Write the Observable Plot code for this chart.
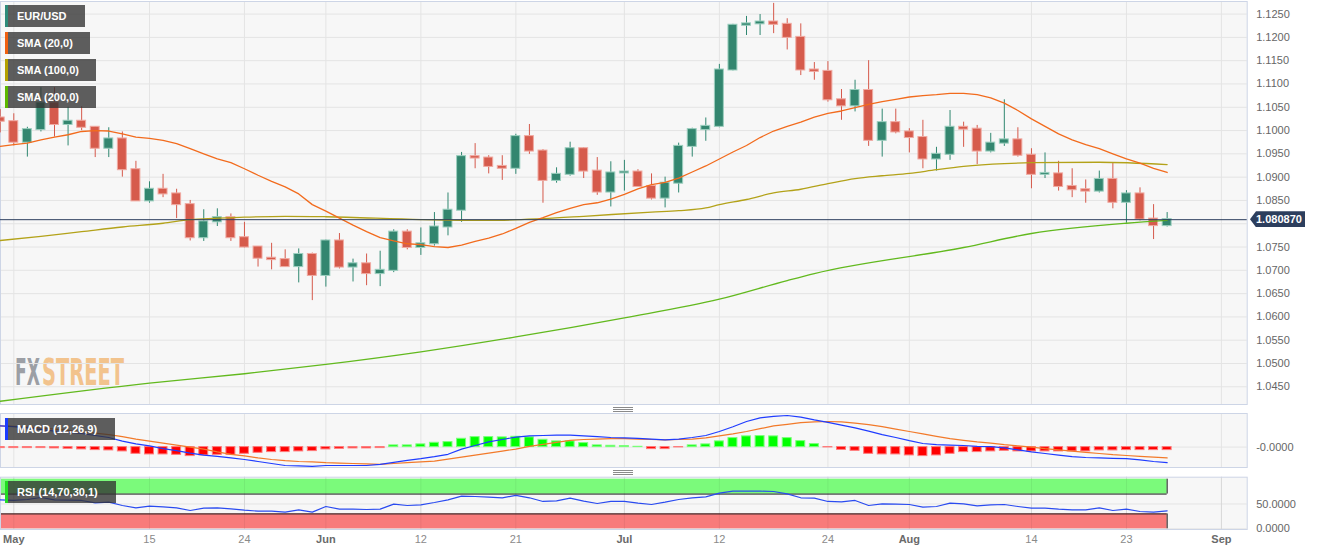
<!DOCTYPE html>
<html><head><meta charset="utf-8">
<script src="https://cdn.jsdelivr.net/npm/d3@7"></script>
<script src="https://cdn.jsdelivr.net/npm/@observablehq/plot@0.6"></script>
<style>
html,body{margin:0;padding:0;background:#fff;}
#wrap{position:relative;width:1323px;height:555px;overflow:hidden;font-family:"Liberation Sans",Arial,sans-serif;}
.abs{position:absolute;left:0;}
.leg{position:absolute;left:5px;height:22px;background:rgba(50,50,50,0.78);color:#fff;font-weight:bold;font-size:11px;line-height:22px;padding-left:12px;box-sizing:border-box;white-space:nowrap;}
.leg span{position:absolute;left:0;top:0;width:3px;height:22px;}
.grip{position:absolute;left:613px;width:20px;height:1px;background:#8a8a8a;box-shadow:0 2px 0 #8a8a8a,0 4px 0 #8a8a8a;}
#tag{position:absolute;left:1250px;width:55px;height:16px;background:#2c3e5d;color:#fff;font-weight:bold;font-size:11px;line-height:16px;padding-left:6px;box-sizing:border-box;clip-path:polygon(0 50%,6px 0,100% 0,100% 100%,6px 100%);}
.wm{font-family:"Liberation Sans Narrow","DejaVu Sans Condensed","Liberation Sans",sans-serif;font-weight:bold;font-size:37px;}
</style></head><body>
<div id="wrap">
  <div class="abs" style="top:1px;width:1247px;height:403px;background:#f7f7f7"></div>
  <svg class="abs" style="top:0" width="200" height="405">
    <g id="wmFX" transform="translate(15,385)"><text class="wm" fill="#9c9fa5">FX</text></g>
    <g id="wmST" transform="translate(42,385)"><text class="wm" fill="#f2c38d">STREET</text></g>
  </svg>
  <div id="main" class="abs" style="top:0"></div>
  <div id="macd" class="abs" style="top:405px"></div>
  <div id="rsi" class="abs" style="top:470px"></div>
  <div class="grip" style="top:407px"></div>
  <div class="grip" style="top:470px"></div>
  <div class="leg" style="top:5px;width:80px"><span style="background:#2e8b7a"></span>EUR/USD</div>
  <div class="leg" style="top:32px;width:85px"><span style="background:#f06010"></span>SMA (20,0)</div>
  <div class="leg" style="top:59px;width:91px"><span style="background:#b3a000"></span>SMA (100,0)</div>
  <div class="leg" style="top:86px;width:91px"><span style="background:#5cb800"></span>SMA (200,0)</div>
  <div class="leg" style="top:418px;width:110px"><span style="background:#1a3cff"></span>MACD (12,26,9)</div>
  <div class="leg" style="top:481px;width:111px"><span style="background:#22dd22"></span>RSI (14,70,30,1)</div>
  <div id="tag"></div>
</div>
<script>
// ---------- DATA ----------
const dates = ["2023-04-28",
"2023-05-01","2023-05-02","2023-05-03","2023-05-04","2023-05-05","2023-05-08","2023-05-09","2023-05-10","2023-05-11","2023-05-12",
"2023-05-15","2023-05-16","2023-05-17","2023-05-18","2023-05-19","2023-05-22","2023-05-23","2023-05-24","2023-05-25","2023-05-26",
"2023-05-29","2023-05-30","2023-05-31",
"2023-06-01","2023-06-02","2023-06-05","2023-06-06","2023-06-07","2023-06-08","2023-06-09","2023-06-12","2023-06-13","2023-06-14",
"2023-06-15","2023-06-16","2023-06-19","2023-06-20","2023-06-21","2023-06-22","2023-06-23","2023-06-26","2023-06-27","2023-06-28",
"2023-06-29","2023-06-30",
"2023-07-03","2023-07-04","2023-07-05","2023-07-06","2023-07-07","2023-07-10","2023-07-11","2023-07-12","2023-07-13","2023-07-14",
"2023-07-17","2023-07-18","2023-07-19","2023-07-20","2023-07-21","2023-07-24","2023-07-25","2023-07-26","2023-07-27","2023-07-28",
"2023-07-31",
"2023-08-01","2023-08-02","2023-08-03","2023-08-04","2023-08-07","2023-08-08","2023-08-09","2023-08-10","2023-08-11","2023-08-14",
"2023-08-15","2023-08-16","2023-08-17","2023-08-18","2023-08-21","2023-08-22","2023-08-23","2023-08-24","2023-08-25","2023-08-28"];

const open = [1.1027,
1.1019,1.0975,1.1002,1.1059,1.1013,1.1020,1.1007,1.0962,1.0982,1.0916,
1.0849,1.0874,1.0864,1.0841,1.0770,1.0804,1.0813,1.0770,1.0750,1.0726,
1.0723,1.0708,1.0734,
1.0689,1.0763,1.0707,1.0714,1.0693,1.0700,1.0782,1.0749,1.0757,1.0793,
1.0829,1.0944,1.0941,1.0923,1.0919,1.0987,1.0956,1.0893,1.0906,1.0961,
1.0913,1.0868,
1.0909,1.0911,1.0880,1.0855,1.0887,1.0966,1.1002,1.1009,1.1130,1.1226,
1.1229,1.1233,1.1228,1.1200,1.1130,1.1127,1.1066,1.1053,1.1086,1.0979,
1.1017,
1.0997,1.0985,1.0939,1.0949,1.1007,1.1003,1.0956,1.0973,1.0980,1.0947,
1.0906,1.0907,1.0880,1.0873,1.0870,1.0895,1.0846,1.0864,1.0810,1.0796];
const high = [1.1045,
1.1036,1.1007,1.1092,1.1092,1.1050,1.1051,1.1008,1.1006,1.0997,1.0934,
1.0890,1.0906,1.0874,1.0850,1.0830,1.0832,1.0821,1.0803,1.0751,1.0758,
1.0744,1.0746,1.0737,
1.0765,1.0779,1.0724,1.0735,1.0741,1.0787,1.0787,1.0791,1.0824,1.0866,
1.0953,1.0972,1.0946,1.0946,1.0992,1.1013,1.0959,1.0920,1.0975,1.0963,
1.0942,1.0933,
1.0936,1.0916,1.0907,1.0900,1.0973,1.1005,1.1027,1.1142,1.1228,1.1245,
1.1249,1.1273,1.1240,1.1229,1.1146,1.1148,1.1088,1.1108,1.1150,1.1046,
1.1046,
1.1004,1.1022,1.0964,1.1043,1.1018,1.1011,1.0994,1.1066,1.1006,1.0961,
1.0952,1.0934,1.0918,1.0894,1.0913,1.0931,1.0871,1.0877,1.0841,1.0824];
const low = [1.0995,
1.0967,1.0943,1.0997,1.0986,1.0967,1.1000,1.0942,1.0942,1.0900,1.0849,
1.0844,1.0856,1.0811,1.0763,1.0762,1.0794,1.0762,1.0748,1.0707,1.0701,
1.0707,1.0673,1.0635,
1.0664,1.0703,1.0675,1.0667,1.0665,1.0695,1.0744,1.0732,1.0752,1.0774,
1.0803,1.0918,1.0907,1.0893,1.0906,1.0949,1.0844,1.0887,1.0902,1.0897,
1.0861,1.0836,
1.0870,1.0879,1.0851,1.0834,1.0866,1.0943,1.0977,1.1006,1.1128,1.1204,
1.1204,1.1208,1.1173,1.1118,1.1108,1.1061,1.1022,1.1040,1.0966,1.0943,
1.0993,
1.0952,1.0918,1.0913,1.0936,1.0964,1.0927,1.0952,1.0966,1.0943,1.0875,
1.0897,1.0870,1.0856,1.0844,1.0866,1.0832,1.0801,1.0806,1.0766,1.0793];
const close = [1.1020,
1.0975,1.1002,1.1059,1.1013,1.1020,1.1007,1.0962,1.0982,1.0916,1.0849,
1.0874,1.0864,1.0841,1.0770,1.0804,1.0813,1.0770,1.0750,1.0726,1.0723,
1.0708,1.0734,1.0689,
1.0763,1.0707,1.0714,1.0693,1.0700,1.0782,1.0749,1.0757,1.0793,1.0829,
1.0944,1.0941,1.0923,1.0919,1.0987,1.0956,1.0893,1.0906,1.0961,1.0913,
1.0868,1.0909,
1.0911,1.0880,1.0855,1.0887,1.0966,1.1002,1.1009,1.1130,1.1226,1.1229,
1.1233,1.1228,1.1200,1.1130,1.1127,1.1066,1.1053,1.1086,1.0979,1.1017,
1.0997,
1.0985,1.0939,1.0949,1.1007,1.1003,1.0956,1.0973,1.0980,1.0947,1.0906,
1.0908,1.0880,1.0873,1.0870,1.0895,1.0846,1.0864,1.0810,1.0796,1.0809];

const sma20 = [1.0966,1.0970,1.0973,1.0980,1.0986,1.0991,1.0998,1.1000,1.0999,1.0993,
1.0986,1.0983,1.0979,1.0972,1.0961,1.0950,1.0939,1.0931,1.0918,1.0904,
1.0891,1.0879,1.0864,1.0841,1.0827,1.0812,1.0797,1.0783,1.0770,1.0763,
1.0757,1.0755,1.0751,1.0749,1.0754,1.0762,1.0769,1.0778,1.0790,1.0803,
1.0813,1.0824,1.0833,1.0841,1.0845,1.0853,1.0863,1.0875,1.0884,1.0889,
1.0898,1.0911,1.0924,1.0939,1.0954,1.0968,1.0985,1.0999,1.1009,1.1018,
1.1029,1.1037,1.1042,1.1049,1.1056,1.1062,1.1067,1.1072,1.1075,1.1077,
1.1080,1.1080,1.1077,1.1070,1.1059,1.1043,1.1025,1.1009,1.0993,1.0980,
1.0970,1.0961,1.0950,1.0939,1.0930,1.0919,1.0910];

const sma100Idx = [-1,2,5,8,11,13,17,20,23,30,35,39,42,47,49,51,52,54,56,58,60,62,64,66,68,70,73,75,80,85];
const sma100Val = [1.0764,1.0773,1.0783,1.0793,1.0801,1.0809,1.0814,1.0816,1.0815,1.0809,1.0807,1.0811,1.0816,1.0825,1.0828,1.0834,1.0841,1.0852,1.0866,1.0874,1.0886,1.0897,1.0903,1.0908,1.0916,1.0923,1.0929,1.0931,1.0932,1.0927];

const sma200Idx = [-1,10,17,23,30,37,45,52,57,59,70,75,82,85];
const sma200Val = [1.0419,1.0458,1.0478,1.0498,1.0525,1.0557,1.0598,1.0638,1.0678,1.0693,1.0749,1.0779,1.0801,1.0807];

const lastPrice = 1.080870;

const macd = [0.0053,0.0051,0.0048,0.0044,0.0040,0.0037,0.0034,0.0029,0.0024,0.0015,
0.0008,0.0003,-0.0004,-0.0009,-0.0015,-0.0020,-0.0023,-0.0027,-0.0031,-0.0036,
-0.0041,-0.0046,-0.0047,-0.0048,-0.0046,-0.0046,-0.0046,-0.0046,-0.0043,-0.0038,
-0.0033,-0.0029,-0.0024,-0.0018,-0.0005,0.0004,0.0013,0.0019,0.0025,0.0028,
0.0029,0.0030,0.0030,0.0028,0.0026,0.0024,0.0023,0.0022,0.0020,0.0018,
0.0020,0.0024,0.0029,0.0039,0.0051,0.0064,0.0073,0.0077,0.0079,0.0075,
0.0068,0.0062,0.0055,0.0048,0.0040,0.0031,0.0024,0.0016,0.0009,0.0006,
0.0005,0.0004,0.0002,0.0001,-0.0002,-0.0007,-0.0012,-0.0016,-0.0020,-0.0024,
-0.0026,-0.0027,-0.0028,-0.0029,-0.0032,-0.0036,-0.0039];
const signal = [0.0053,0.0052,0.0050,0.0048,0.0045,0.0042,0.0038,0.0035,0.0031,0.0026,
0.0020,0.0015,0.0010,0.0005,0.0000,-0.0005,-0.0012,-0.0018,-0.0022,-0.0027,
-0.0031,-0.0034,-0.0036,-0.0037,-0.0039,-0.0040,-0.0041,-0.0042,-0.0043,-0.0041,
-0.0039,-0.0037,-0.0035,-0.0030,-0.0025,-0.0020,-0.0015,-0.0010,-0.0005,0.0002,
0.0007,0.0012,0.0017,0.0019,0.0020,0.0021,0.0021,0.0020,0.0019,0.0018,
0.0019,0.0020,0.0023,0.0028,0.0033,0.0039,0.0046,0.0053,0.0057,0.0061,
0.0063,0.0064,0.0063,0.0060,0.0056,0.0051,0.0045,0.0039,0.0033,0.0027,
0.0021,0.0017,0.0013,0.0010,0.0006,0.0003,0.0000,-0.0004,-0.0007,-0.0010,
-0.0013,-0.0016,-0.0019,-0.0021,-0.0023,-0.0025,-0.0027];
const hist = [-0.00025,-0.00025,-0.00025,-0.00025,-0.00033,-0.00043,-0.00058,-0.00075,-0.00083,-0.00108,
-0.00168,-0.00183,-0.00183,-0.00193,-0.00225,-0.00208,-0.00193,-0.00193,-0.00168,-0.00143,
-0.00125,-0.00125,-0.00108,-0.00100,-0.00058,-0.00043,-0.00033,-0.00033,-0.00025,0.00043,
0.00043,0.00068,0.00108,0.00125,0.00208,0.00250,0.00250,0.00243,0.00258,0.00243,
0.00183,0.00143,0.00143,0.00100,0.00043,0.00033,0.00025,0.00008,-0.00050,-0.00050,
-0.00008,0.00043,0.00068,0.00143,0.00225,0.00268,0.00275,0.00268,0.00225,0.00150,
0.00075,-0.00008,-0.00068,-0.00093,-0.00168,-0.00183,-0.00183,-0.00208,-0.00225,-0.00208,
-0.00168,-0.00125,-0.00125,-0.00108,-0.00093,-0.00108,-0.00108,-0.00108,-0.00108,-0.00108,
-0.00108,-0.00083,-0.00083,-0.00075,-0.00075,-0.00075,-0.00075];

const rsi = [58.4,57.1,59.1,63.1,58.4,57.8,57.1,52.4,53.7,47.0,
42.3,45.7,44.3,42.3,36.9,41.6,42.3,40.3,37.6,35.6,
35.6,33.6,38.3,33.6,45.0,39.6,39.6,38.9,39.6,49.7,
47.0,48.3,53.0,58.4,65.8,65.1,63.8,62.5,67.2,62.5,
55.1,56.4,61.8,55.7,51.0,55.1,55.1,51.7,49.0,53.7,
59.1,62.5,64.5,71.9,75.9,75.9,75.9,75.2,70.5,62.5,
61.8,55.1,54.4,57.1,47.0,50.4,49.7,49.0,43.6,45.0,
51.7,50.4,46.3,48.3,49.0,45.0,41.6,41.6,39.6,38.3,
38.3,42.3,36.9,39.6,34.9,33.6,36.3];
const rsiUpper = 70, rsiLower = 30, rsiTop = 100, rsiBottom = 0;

// grid lines at every 0.005; the 1.0800 label is hidden behind the price tag in the reference
const priceTicks = [1.045,1.050,1.055,1.060,1.065,1.070,1.075,1.080,1.085,1.090,1.095,1.100,1.105,1.110,1.115,1.120,1.125];
const priceLabelTicks = [1.045,1.050,1.055,1.060,1.065,1.070,1.075,1.085,1.090,1.095,1.100,1.105,1.110,1.115,1.120,1.125];
const macdTicks = [0];
const macdTickLabels = ["-0.0000"];
const rsiTicks = [0, 50];
const rsiTickLabels = ["0.0000", "50.0000"];
const gridIdx = [0,10,17,23,30,37,45,52,60,66,75,82,89];
const monthTicks = [0,23,45,66,89];
const monthLabels = ["May","Jun","Jul","Aug","Sep"];
const dayTicks = [10,17,30,37,52,60,75,82];
const dayLabels = ["15","24","12","21","12","24","14","23"];

// ---------- BUILD ----------
const idx = dates.map((d,k) => k - 1);
const firstIdx = idx[0], lastIdx = idx[idx.length - 1];
const candles = idx.map((x,k) => ({x, o: open[k], h: high[k], l: low[k], c: close[k]}));
const isUp = d => d.c >= d.o;
const s20 = idx.map((x,k) => ({x, y: sma20[k]}));
const s100 = sma100Idx.map((x,k) => ({x, y: sma100Val[k]}));
const s200 = sma200Idx.map((x,k) => ({x, y: sma200Val[k]}));
const mData = idx.map((x,k) => ({x, m: macd[k], s: signal[k], h: hist[k]}));
const rData = idx.map((x,k) => ({x, r: rsi[k]}));
const bands = [
  {x1: firstIdx, x2: lastIdx, y1: rsiUpper, y2: rsiTop, fill: "#7bfa7b"},
  {x1: firstIdx, x2: lastIdx, y1: rsiBottom, y2: rsiLower, fill: "#f87b7b"}
];

const W = 1323, MR = 76.3;
const xOpt = {domain: [-0.98, 90.9], axis: null};
const style = {background: "transparent", fontFamily: "Liberation Sans, Arial, sans-serif", fontSize: "11px", overflow: "visible"};
const gridStyle = {stroke: "#e4e4e4", strokeOpacity: 1};
const frameStroke = "#cdd5e6";

const main = Plot.plot({
  width: W, height: 405, marginLeft: 0, marginRight: MR, marginTop: 1, marginBottom: 1,
  x: xOpt, y: {domain: [1.0412, 1.1277], axis: null}, style,
  marks: [
    Plot.gridY(priceTicks, gridStyle),
    Plot.gridX(gridIdx, gridStyle),
    Plot.frame({stroke: frameStroke}),
    Plot.ruleX(candles, {x: "x", y1: "l", y2: "h", stroke: d => isUp(d) ? "#2f8770" : "#d5594b", strokeWidth: 1}),
    Plot.rect(candles, {x1: d => d.x - 0.33, x2: d => d.x + 0.33,
      y1: d => Math.min(d.o, d.c), y2: d => Math.max(d.o, d.c),
      fill: d => isUp(d) ? "#33866f" : "#d65b4c",
      stroke: d => isUp(d) ? "#9ccfbf" : "#f0aaa2", strokeWidth: 1,
      insetTop: -0.5, insetBottom: -0.5}),
    Plot.line(s200, {x: "x", y: "y", stroke: "#62b91e", strokeWidth: 1.3, curve: "monotone-x"}),
    Plot.line(s100, {x: "x", y: "y", stroke: "#b3a219", strokeWidth: 1.3, curve: "monotone-x"}),
    Plot.line(s20, {x: "x", y: "y", stroke: "#f26b1d", strokeWidth: 1.3}),
    Plot.ruleY([lastPrice], {stroke: "#2c3e5d", strokeWidth: 1}),
    Plot.axisY(priceLabelTicks, {anchor: "right", tickSize: 0, tickPadding: 9, tickFormat: d => d.toFixed(4), fontSize: 11, fill: "#666"})
  ]
});
document.getElementById("main").appendChild(main);

const macdPlot = Plot.plot({
  width: W, height: 65, marginLeft: 0, marginRight: MR, marginTop: 8, marginBottom: 3,
  x: xOpt, y: {domain: [-0.0051, 0.0084], axis: null}, style,
  marks: [
    Plot.frame({fill: "#f7f7f7"}),
    Plot.gridX(gridIdx, gridStyle),
    Plot.gridY(macdTicks, gridStyle),
    Plot.frame({stroke: frameStroke}),
    Plot.rect(mData, {x1: d => d.x - 0.33, x2: d => d.x + 0.33, y1: 0, y2: "h",
      fill: d => d.h >= 0 ? "#00ff00" : "#ff0000",
      stroke: d => d.h >= 0 ? "#7aff7a" : "#ff7a7a", strokeWidth: 1}),
    Plot.line(mData, {x: "x", y: "s", stroke: "#f27a2a", strokeWidth: 1.2}),
    Plot.line(mData, {x: "x", y: "m", stroke: "#1f3cff", strokeWidth: 1.2}),
    Plot.axisY(macdTicks, {anchor: "right", tickSize: 0, tickPadding: 9, tickFormat: d => macdTickLabels[macdTicks.indexOf(d)], fontSize: 11, fill: "#666"})
  ]
});
document.getElementById("macd").appendChild(macdPlot);

const rsiPlot = Plot.plot({
  width: W, height: 85, marginLeft: 0, marginRight: MR, marginTop: 6.7, marginBottom: 26,
  x: xOpt, y: {domain: [-1.4, 104], axis: null}, style,
  marks: [
    Plot.frame({fill: "#f7f7f7"}),
    Plot.gridY(rsiTicks, gridStyle),
    Plot.gridX(gridIdx, gridStyle),
    Plot.rect(bands, {x1: "x1", x2: "x2", y1: "y1", y2: "y2", fill: "fill"}),
    Plot.gridX(gridIdx, {stroke: "#000", strokeOpacity: 0.06}),
    Plot.ruleY([rsiUpper, rsiLower], {x1: firstIdx, x2: lastIdx, stroke: "#1a1a1a"}),
    Plot.ruleX(bands, {x: "x2", y1: "y1", y2: "y2", stroke: "#1a1a1a"}),
    Plot.frame({stroke: frameStroke}),
    Plot.line(rData, {x: "x", y: "r", stroke: "#2a4bf0", strokeWidth: 1.2}),
    Plot.axisY(rsiTicks, {anchor: "right", tickSize: 0, tickPadding: 9, tickFormat: d => rsiTickLabels[rsiTicks.indexOf(d)], fontSize: 11, fill: "#666"}),
    Plot.axisX(dayTicks, {anchor: "bottom", tickSize: 0, tickPadding: 6, tickFormat: d => dayLabels[dayTicks.indexOf(d)], fontSize: 11, fill: "#8a8a8a"}),
    Plot.axisX(monthTicks, {anchor: "bottom", tickSize: 0, tickPadding: 6, tickFormat: d => monthLabels[monthTicks.indexOf(d)], fontSize: 11, fontWeight: "bold", fill: "#6a6a6a"})
  ]
});
document.getElementById("rsi").appendChild(rsiPlot);

// price tag positioned through the main plot's y scale
const ys = main.scale("y");
const yPix = ys.apply ? ys.apply(lastPrice) : d3.scaleLinear(ys.domain, ys.range)(lastPrice);
const tag = document.getElementById("tag");
tag.textContent = lastPrice.toFixed(6);
tag.style.top = (yPix - 8) + "px";

// condense the watermark words to their widths in the reference
[["wmFX", 15, 25], ["wmST", 42, 82]].forEach(([id, x0, w]) => {
  const g = document.getElementById(id);
  const t = g.querySelector("text");
  const nat = t.getComputedTextLength() || w;
  g.setAttribute("transform", `translate(${x0},385) scale(${w / nat},1)`);
});
</script>
</body></html>
